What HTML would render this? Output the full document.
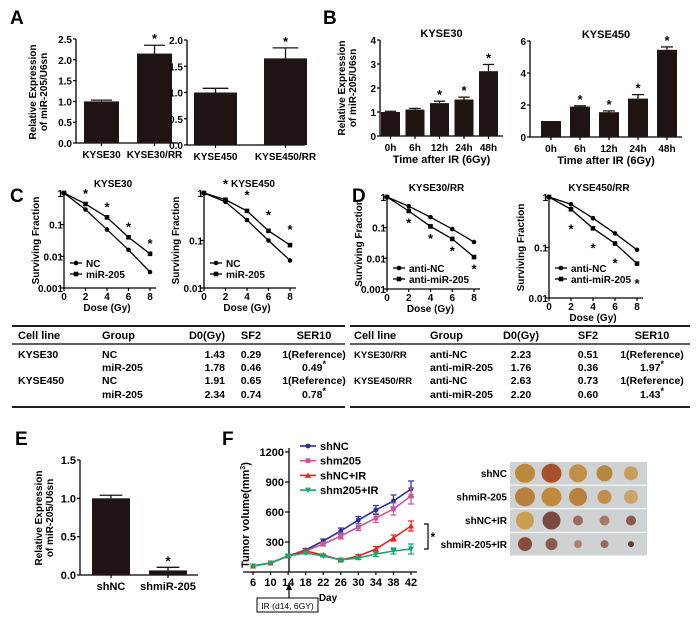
<!DOCTYPE html>
<html><head><meta charset="utf-8"><style>
html,body{margin:0;padding:0;background:#fff;}
svg{display:block;font-family:"Liberation Sans",Arial,sans-serif;font-weight:bold;}
</style></head><body>
<svg id="fig" width="700" height="619" viewBox="0 0 700 619" xmlns="http://www.w3.org/2000/svg">
<g font-size="19" fill="#000">
<text x="10" y="24">A</text>
<text x="323" y="24">B</text>
<text x="10" y="202">C</text>
<text x="352" y="202">D</text>
<text x="15" y="445">E</text>
<text x="222" y="445">F</text>
</g>
</svg>
<script>
// ---- data ----
const aCats1 = ["KYSE30","KYSE30/RR"];
const aVals1 = [1.0, 2.15];
const aErr1 = [0.03, 0.2];
const aStar1 = [false, true];
const aCats2 = ["KYSE450","KYSE450/RR"];
const aVals2 = [1.0, 1.65];
const aErr2 = [0.08, 0.2];
const aStar2 = [false, true];
const bCats = ["0h","6h","12h","24h","48h"];
const bVals1 = [1.0, 1.1, 1.37, 1.52, 2.7];
const bErr1 = [0.03, 0.05, 0.08, 0.1, 0.28];
const bStar1 = [false, false, true, true, true];
const bVals2 = [1.0, 1.9, 1.55, 2.4, 5.45];
const bErr2 = [0.0, 0.05, 0.08, 0.25, 0.18];
const bStar2 = [false, true, true, true, true];
const doses = [0, 2, 4, 6, 8];
const c1NC = [1, 0.3, 0.07, 0.016, 0.0032];
const c1Mi = [1, 0.45, 0.17, 0.04, 0.012];
const c2NC = [1, 0.65, 0.27, 0.1, 0.038];
const c2Mi = [1, 0.72, 0.42, 0.16, 0.08];
const d1NC = [1, 0.5, 0.22, 0.09, 0.034];
const d1Mi = [1, 0.35, 0.11, 0.043, 0.011];
const d2NC = [1, 0.72, 0.38, 0.19, 0.09];
const d2Mi = [1, 0.57, 0.24, 0.12, 0.048];
const eCats = ["shNC","shmiR-205"];
const eVals = [1.0, 0.06];
const eErr = [0.04, 0.04];
const eStar = [false, true];
const fDays = [6,10,14,18,22,26,30,34,38,42];
const fShNC = [60,90,160,220,310,410,520,620,710,830];
const fShm205 = [60,90,160,210,280,360,450,540,630,760];
const fShNCIR = [60,90,160,210,170,120,160,230,340,460];
const fShm205IR = [60,90,160,190,160,120,140,180,210,230];
const fErrNC = [10,10,15,15,20,30,35,45,60,80];
const fErrIR = [10,10,15,10,10,10,15,25,30,50];
const fLabels = ["shNC","shm205","shNC+IR","shm205+IR"];
const fYTicks = [300,600,900,1200];

const NS="http://www.w3.org/2000/svg";
const svg=document.getElementById('fig');
function mk(tag,attrs,parent){const e=document.createElementNS(NS,tag);for(const k in attrs)e.setAttribute(k,attrs[k]);(parent||svg).appendChild(e);return e;}
function txt(x,y,s,size,anchor,name,parent,extra){const t=mk('text',Object.assign({x:x,y:y,'font-size':size,'text-anchor':anchor||'start'},extra||{}),parent);t.textContent=s;


return t;}
function ln(x1,y1,x2,y2,name,w,col,parent){const l=mk('line',{x1:x1,y1:y1,x2:x2,y2:y2,stroke:col||'#000','stroke-width':w||1.3},parent);


return l;}

function ylabel(x,cy,lines,size){lines.forEach((s,i)=>{const t=txt(0,0,s,size,'middle','y-axis-title');t.setAttribute('transform','translate('+(x+i*(size+1))+','+cy+') rotate(-90)');});}

function barChart(c){
  const g=mk('g',{});
  
  
  const ys=v=>c.yB-(v/c.max)*(c.yB-c.yT);
  ln(c.ax,c.yB,c.xe,c.yB,'x-axis',1.3,'#000',g);
  ln(c.ax,c.yT,c.ax,c.yB,'y-axis',1.3,'#000',g);
  c.ticks.forEach((t,i)=>{ln(c.ax-3,ys(t),c.ax,ys(t),'y-tick',1.2,'#000',g);txt(c.ax-4,ys(t)+4,c.tl[i],c.fs,'end','y-tick-label',g);});
  c.vals.forEach((v,i)=>{
    const x=c.b0+i*c.step,cx=x+c.bw/2;
    const r=mk('rect',{x:x,y:ys(v),width:c.bw,height:c.yB-ys(v),fill:'#1e1414'},g);
    
    
    if(c.err[i]>0){ln(cx,ys(v),cx,ys(v+c.err[i]),'error-bar',1.3,'#1e1414',g);ln(cx-c.bw*0.3,ys(v+c.err[i]),cx+c.bw*0.3,ys(v+c.err[i]),'error-cap',1.3,'#1e1414',g);}
    ln(cx,c.yB,cx,c.yB+3,'x-tick',1.2,'#000',g);
    txt(cx,c.yB+15,c.cats[i],c.fs,'middle','x-tick-label',g);
    if(c.star[i])txt(cx,ys(v+c.err[i])-2,'*',13,'middle','significance-star',g);
  });
  if(c.title)txt((c.ax+c.xe)/2,c.yT-3,c.title,11,'middle','chart-title',g);
  if(c.xt)txt((c.ax+c.xe)/2,c.yB+27,c.xt,11,'middle','x-axis-title',g);
}
barChart({name:'chart-a-kyse30',ax:76,xe:178,yB:143,yT:39,max:2.5,ticks:[0,0.5,1,1.5,2,2.5],tl:["0.0","0.5","1.0","1.5","2.0","2.5"],b0:84,bw:35,step:53,vals:aVals1,err:aErr1,cats:aCats1,star:aStar1,fs:10});
barChart({name:'chart-a-kyse450',ax:187,xe:305,yB:145,yT:40,max:2,ticks:[0,0.5,1,1.5,2],tl:["0.0","0.5","1.0","1.5","2.0"],b0:194,bw:43,step:70,vals:aVals2,err:aErr2,cats:aCats2,star:aStar2,fs:10});
barChart({name:'chart-b-kyse30',ax:380,xe:503,yB:136,yT:40,max:4,ticks:[0,1,2,3,4],tl:["0","1","2","3","4"],b0:381,bw:19,step:24.5,vals:bVals1,err:bErr1,cats:bCats,star:bStar1,fs:10,title:'KYSE30',xt:'Time after IR (6Gy)'});
barChart({name:'chart-b-kyse450',ax:530,xe:682,yB:137,yT:41,max:6,ticks:[0,2,4,6],tl:["0","2","4","6"],b0:541,bw:20,step:29,vals:bVals2,err:bErr2,cats:bCats,star:bStar2,fs:10,title:'KYSE450',xt:'Time after IR (6Gy)'});
barChart({name:'chart-e',ax:80,xe:198,yB:575,yT:460,max:1.5,ticks:[0,0.5,1,1.5],tl:["0.0","0.5","1.0","1.5"],b0:92,bw:38,step:57,vals:eVals,err:eErr,cats:eCats,star:eStar,fs:11});
ylabel(36,92,["Relative Expression","of miR-205/U6sn"],10);
ylabel(345,88,["Relative Expression","of miR-205/U6sn"],10);
ylabel(42,518,["Relative Expression","of miR-205/U6sn"],10);

function logChart(c){
  const g=mk('g',{});
  
  
  const xs=d=>c.ax+d/8*(c.x8-c.ax);
  const ys=v=>c.yT+(-Math.log10(v))/c.dec*(c.yB-c.yT);
  ln(c.ax,c.yB,c.x8+6,c.yB,'x-axis',1.3,'#000',g);
  ln(c.ax,c.yT,c.ax,c.yB,'y-axis',1.3,'#000',g);
  for(let k=0;k<=c.dec;k++){const v=Math.pow(10,-k);ln(c.ax-3,ys(v),c.ax,ys(v),'y-tick',1.2,'#000',g);txt(c.ax-1,ys(v)+4,c.tl[k],10,'end','y-tick-label',g);}
  doses.forEach(d=>{ln(xs(d),c.yB,xs(d),c.yB+3,'x-tick',1.2,'#000',g);txt(xs(d),c.yB+12,String(d),10,'middle','x-tick-label',g);});
  txt((c.ax+c.x8)/2,c.yB+23,'Dose (Gy)',10,'middle','x-axis-title',g);
  txt((c.ax+c.x8)/2+6,c.yT-6,c.title,10,'middle','chart-title',g);
  [[c.s1,'circle',c.l1],[c.s2,'square',c.l2]].forEach(([arr,shape,lab],si)=>{
    const p=mk('polyline',{points:doses.map((d,i)=>xs(d)+','+ys(arr[i])).join(' '),fill:'none',stroke:'#000','stroke-width':1.3},g);
    
    
    arr.forEach((v,i)=>{
      const m=shape==='circle'?mk('circle',{cx:xs(doses[i]),cy:ys(v),r:2.3,fill:'#000'},g):mk('rect',{x:xs(doses[i])-2.3,y:ys(v)-2.3,width:4.6,height:4.6,fill:'#000'},g);
      
      
    });
    const ly=c.legY+si*11;
    ln(c.ax+6,ly,c.ax+18,ly,'legend-line',1.3,'#000',g);
    const lm=shape==='circle'?mk('circle',{cx:c.ax+12,cy:ly,r:2.3,fill:'#000'},g):mk('rect',{x:c.ax+9.7,y:ly-2.3,width:4.6,height:4.6,fill:'#000'},g);
    
    
    txt(c.ax+22,ly+4,lab,10,'start','legend-entry',g);
  });
  c.stars.forEach((d,i)=>{const v=c.starUp?Math.max(c.s1[d/2],c.s2[d/2])*2.2:Math.min(c.s1[d/2],c.s2[d/2])/2.4;txt(xs(d),ys(v)+5,'*',13,'middle','significance-star',g);});
  const t=txt(0,0,'Surviving Fraction',10,'middle','y-axis-title',g);t.setAttribute('transform','translate('+(c.ax-25)+','+((c.yT+c.yB)/2)+') rotate(-90)');
}
logChart({name:'chart-c-kyse30',ax:64,x8:150,yT:193,yB:288,dec:3,tl:["1","0.1","0.01","0.001"],title:'KYSE30',s1:c1NC,s2:c1Mi,l1:'NC',l2:'miR-205',legY:263,stars:[2,4,6,8],starUp:true});
logChart({name:'chart-c-kyse450',ax:204,x8:290,yT:193,yB:288,dec:2,tl:["1","0.1","0.01"],title:'KYSE450',s1:c2NC,s2:c2Mi,l1:'NC',l2:'miR-205',legY:263,stars:[2,4,6,8],starUp:true});
logChart({name:'chart-d-kyse30rr',ax:387,x8:474,yT:197,yB:289,dec:3,tl:["1","0.1","0.01","0.001"],title:'KYSE30/RR',s1:d1NC,s2:d1Mi,l1:'anti-NC',l2:'anti-miR-205',legY:268,stars:[2,4,6,8],starUp:false});
logChart({name:'chart-d-kyse450rr',ax:549,x8:637,yT:197,yB:298,dec:2,tl:["1","0.1","0.01"],title:'KYSE450/RR',s1:d2NC,s2:d2Mi,l1:'anti-NC',l2:'anti-miR-205',legY:268,stars:[2,4,6,8],starUp:false});

// tables
const tHead=["Cell line","Group","D0(Gy)","SF2","SER10"];
const tLeft=[["KYSE30","NC","1.43","0.29","1(Reference)"],["","miR-205","1.78","0.46","0.49*"],["KYSE450","NC","1.91","0.65","1(Reference)"],["","miR-205","2.34","0.74","0.78*"]];
const tRight=[["KYSE30/RR","anti-NC","2.23","0.51","1(Reference)"],["","anti-miR-205","1.76","0.36","1.97*"],["KYSE450/RR","anti-NC","2.63","0.73","1(Reference)"],["","anti-miR-205","2.20","0.60","1.43*"]];
function table(name,x0,x1,cols,rows,ys){
  const g=mk('g',{});
  
  
  ln(x0,326,x1,326,'table-top-rule',1.8,'#000',g);
  ln(x0,344,x1,344,'table-header-rule',1.2,'#000',g);
  ln(x0,407,x1,407,'table-bottom-rule',1.8,'#000',g);
  tHead.forEach((h,i)=>txt(cols[i][0],339,h,11,cols[i][1],'table-header',g));
  rows.forEach((r,ri)=>r.forEach((s,ci)=>{
    if(!s)return;
    const star=s.endsWith('*');const v=star?s.slice(0,-1):s;
    const t=txt(cols[ci][0],ys[ri],v,ci===0&&name==='table-right'?9.5:10.5,cols[ci][1],'table-cell',g);
    if(star){const ts=document.createElementNS(NS,'tspan');ts.setAttribute('dy','-4');ts.setAttribute('font-size','9');ts.textContent='*';t.appendChild(ts);}
  }));
}
table('table-left',12,345,[[18,'start'],[102,'start'],[225,'end'],[251,'middle'],[314,'middle']],tLeft,[358,371,384,398]);
table('table-right',350,690,[[354,'start'],[430,'start'],[521,'middle'],[588,'middle'],[652,'middle']],tRight,[358,371,384,398]);

// panel F
(function(){
  const g=mk('g',{});
  
  
  const ax=289,yB=572;
  const xs=d=>253+(d-6)/36*(411-253);
  const ys=v=>yB-v/300*30;
  ln(243,yB,417,yB,'x-axis',1.3,'#000',g);
  ln(ax,448,ax,yB,'y-axis',1.3,'#000',g);
  fYTicks.forEach(t=>{ln(ax-4,ys(t),ax,ys(t),'y-tick',1.2,'#000',g);txt(ax-5,ys(t)+4,String(t),11,'end','y-tick-label',g);});
  fDays.forEach(d=>{ln(xs(d),yB,xs(d),yB+3,'x-tick',1.2,'#000',g);txt(xs(d),yB+14,String(d),11,'middle','x-tick-label',g);});
  txt(328,601,'Day',10,'middle','x-axis-title',g);
  const yt=txt(0,0,'Tumor volume(mm',11,'middle','y-axis-title',g);
  const sup=document.createElementNS(NS,'tspan');sup.setAttribute('dy','-4');sup.setAttribute('font-size','7');sup.textContent='3';yt.appendChild(sup);
  const cl=document.createElementNS(NS,'tspan');cl.setAttribute('dy','4');cl.textContent=')';yt.appendChild(cl);
  yt.setAttribute('transform','translate(249,515) rotate(-90)');
  const series=[[fShNC,'#2b2e9a',fErrNC,'circle'],[fShm205,'#c9559a',fErrNC,'square'],[fShNCIR,'#e8231f',fErrIR,'tri'],[fShm205IR,'#1aa66a',fErrIR,'tridown']];
  series.forEach(([arr,col,err,shape],si)=>{
    const p=mk('polyline',{points:fDays.map((d,i)=>xs(d)+','+ys(arr[i])).join(' '),fill:'none',stroke:col,'stroke-width':1.6},g);
    
    
    arr.forEach((v,i)=>{
      const x=xs(fDays[i]);
      if(i>=2){ln(x,ys(v-err[i]),x,ys(v+err[i]),'error-bar',1.2,col,g);ln(x-3,ys(v+err[i]),x+3,ys(v+err[i]),'error-cap',1.2,col,g);ln(x-3,ys(v-err[i]),x+3,ys(v-err[i]),'error-cap',1.2,col,g);}
      const m=marker(x,ys(v),shape,col,g);
      
      
    });
    const ly=446+si*14.7;
    ln(300,ly,316,ly,'legend-line',1.6,col,g);
    const lm=marker(308,ly,shape,col,g);
    
    
    txt(320,ly+4,fLabels[si],11,'start','legend-entry',g);
  });
  function marker(x,y,shape,col,g){
    if(shape==='circle')return mk('circle',{cx:x,cy:y,r:2.4,fill:col},g);
    if(shape==='square')return mk('rect',{x:x-2.4,y:y-2.4,width:4.8,height:4.8,fill:col},g);
    if(shape==='tri')return mk('polygon',{points:(x-3)+','+(y+2.5)+' '+(x+3)+','+(y+2.5)+' '+x+','+(y-3),fill:col},g);
    return mk('polygon',{points:(x-3)+','+(y-2.5)+' '+(x+3)+','+(y-2.5)+' '+x+','+(y+3),fill:col},g);
  }
  const b=mk('polyline',{points:'424,524 428,524 428,549 424,549',fill:'none',stroke:'#000','stroke-width':1.2},g);
  
  
  txt(433,541,'*',12,'middle','significance-star',g);
  const ar=mk('polygon',{points:'286,590 292,590 289,583',fill:'#000'},g);
  
  
  ln(289,590,289,598,'ir-arrow-stem',1.2,'#000',g);
  const bx=mk('rect',{x:257,y:598,width:61,height:14,fill:'#fff',stroke:'#000','stroke-width':1},g);
  
  
  txt(287.5,609,'IR (d14, 6GY)',8.5,'middle','ir-annotation',g,{'font-weight':'normal'});
})();

// tumor photo
(function(){
  const g=mk('g',{});
  
  
  const names=["shNC","shmiR-205","shNC+IR","shmiR-205+IR"];
  const sizes=[[10,10,9,8,7],[10,10,9,7,7],[9,9,5,5,5],[7,6,4,4,3]];
  const cols=[["#b98a3c","#a8502c","#c09048","#b8863c","#c69e5a"],["#b8803e","#c08a3a","#b98040","#c48d48","#cda468"],["#c8a050","#7a4a40","#9a6a5a","#a87868","#8a5a52"],["#8a4a3a","#8a5a4a","#b08068","#9a6a58","#6a3a2a"]];
  names.forEach((n,r)=>{
    const y=462+r*23.6;
    const bg=mk('rect',{x:510,y:y,width:137,height:22.6,fill:'#cfd2d2'},g);
    
    
    txt(507,y+15,n,10,'end','photo-row-label',g);
    sizes[r].forEach((s,i)=>{
      const e=mk('ellipse',{cx:525+i*26.5,cy:y+11.3,rx:s,ry:Math.min(s,9.5),fill:cols[r][i]},g);
      
      
    });
  });
})();
</script>
</body></html>
